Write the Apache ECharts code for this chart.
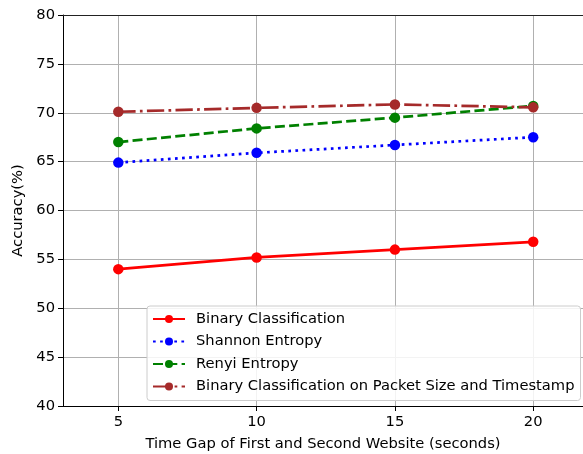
<!DOCTYPE html>
<html>
<head>
<meta charset="utf-8">
<script src="https://cdn.jsdelivr.net/npm/echarts@6/dist/echarts.min.js"></script>
<style>
  html, body { margin: 0; padding: 0; background: #fff; }
  #chart { width: 583px; height: 454px; }
</style>
</head>
<body>
<div id="chart"></div>
<script>
var timeGaps = [5, 10, 15, 20];
var binaryCls = [54.0, 55.2, 56.0, 56.8];
var shannon = [64.9, 65.9, 66.7, 67.5];
var renyi = [67.0, 68.4, 69.5, 70.7];
var binaryPkt = [70.1, 70.5, 70.85, 70.55];

var font = 'DejaVu Sans';
var fs = 14.7;

function pairs(vals) {
    return timeGaps.map(function (x, i) { return [x, vals[i]]; });
}

function makeSeries(name, vals, color, type, z) {
    return {
        name: name,
        type: 'line',
        data: pairs(vals),
        symbol: 'circle',
        symbolSize: 10.5,
        z: z,
        itemStyle: { color: color },
        lineStyle: { color: color, width: 2.7, type: type },
        animation: false
    };
}

var chart = echarts.init(document.getElementById('chart'));

var options = {
    animation: false,
    grid: { left: 63, top: 15, right: 0, bottom: 48, outerBoundsMode: 'none' },
    xAxis: [{
        type: 'value',
        min: 3, max: 21.8,
        name: 'Time Gap of First and Second Website (seconds)',
        nameLocation: 'middle',
        nameGap: 31,
        nameTextStyle: { fontFamily: font, fontSize: fs, color: '#000' },
        axisLine: { onZero: false, lineStyle: { color: '#000', width: 1 } },
        axisTick: { show: true, length: 5, lineStyle: { color: '#000' }, customValues: timeGaps },
        axisLabel: { fontFamily: font, fontSize: fs, color: '#000', margin: 9, customValues: timeGaps },
        splitLine: { show: true, lineStyle: { color: '#b0b0b0', width: 1 } }
    }, {
        type: 'value',
        position: 'top',
        min: 3, max: 21.8,
        axisLine: { show: true, onZero: false, lineStyle: { color: '#222', width: 1 } },
        axisTick: { show: false },
        axisLabel: { show: false },
        splitLine: { show: false }
    }],
    yAxis: {
        type: 'value',
        min: 40, max: 80, interval: 5,
        name: 'Accuracy(%)',
        nameLocation: 'middle',
        nameGap: 33,
        nameTextStyle: { fontFamily: font, fontSize: fs, color: '#000' },
        axisLine: { show: true, lineStyle: { color: '#000', width: 1 } },
        axisTick: { show: true, length: 5, lineStyle: { color: '#000' } },
        axisLabel: { fontFamily: font, fontSize: fs, color: '#000', margin: 8 },
        splitLine: { show: true, lineStyle: { color: '#b0b0b0', width: 1 } }
    },
    legend: {
        left: 147, top: 306,
        orient: 'vertical',
        itemWidth: 32, itemHeight: 10, itemGap: 7.5,
        padding: [5.5, 6, 6.5, 5],
        backgroundColor: 'rgba(255,255,255,0.85)',
        borderColor: '#cccccc', borderWidth: 1, borderRadius: 3,
        textStyle: { fontFamily: font, fontSize: fs, color: '#000', padding: [0, 0, 0, 6] },
        data: ['Binary Classification', 'Shannon Entropy', 'Renyi Entropy',
               'Binary Classification on Packet Size and Timestamp']
    },
    series: [
        makeSeries('Binary Classification', binaryCls, '#ff0000', 'solid', 2),
        makeSeries('Shannon Entropy', shannon, '#0000ff', [2.7, 4.4], 3),
        makeSeries('Renyi Entropy', renyi, '#008000', [10, 4.3], 4),
        makeSeries('Binary Classification on Packet Size and Timestamp', binaryPkt, '#a52a2a', [17.3, 4.3, 2.7, 4.3], 5)
    ]
};

chart.setOption(options);
</script>
</body>
</html>
